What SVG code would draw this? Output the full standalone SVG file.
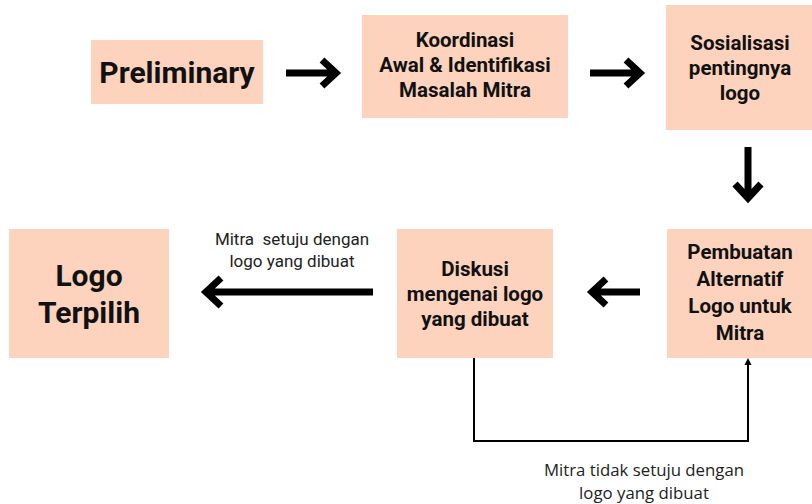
<svg xmlns="http://www.w3.org/2000/svg" width="812" height="504" viewBox="0 0 812 504">
<style>
.box{fill:#fdd3bd}
.t{font-family:Roboto,"Liberation Sans",sans-serif;font-weight:bold;fill:#111;text-anchor:middle}
.big{font-size:30px}
.mid{font-size:20.5px}
.lbl{font-family:Roboto,"Liberation Sans",sans-serif;font-size:17px;fill:#222;text-anchor:middle;white-space:pre}
.lbl2{font-family:"Open Sans",sans-serif;font-size:16.8px;fill:#222;text-anchor:middle}
.thick{fill:none;stroke:#000;stroke-width:7;stroke-linejoin:miter}
.thin{fill:none;stroke:#000;stroke-width:2}
</style>
<rect width="812" height="504" fill="#fff"/>
<g id="n-preliminary"><rect class="box" x="91" y="40" width="172" height="64"/><text class="t big" x="177" y="83">Preliminary</text></g>
<g id="n-koordinasi"><rect class="box" x="362" y="15" width="206" height="103"/><text class="t mid" x="465" y="47">Koordinasi</text><text class="t mid" x="465" y="72">Awal &amp; Identifikasi</text><text class="t mid" x="465" y="97">Masalah Mitra</text></g>
<g id="n-sosialisasi"><rect class="box" x="666" y="5" width="146" height="125"/><text class="t mid" x="740" y="50">Sosialisasi</text><text class="t mid" x="740" y="75">pentingnya</text><text class="t mid" x="740" y="100">logo</text></g>
<g id="n-pembuatan"><rect class="box" x="667" y="229" width="145" height="129"/><text class="t mid" x="740" y="259">Pembuatan</text><text class="t mid" x="740" y="286">Alternatif</text><text class="t mid" x="740" y="313">Logo untuk</text><text class="t mid" x="740" y="340">Mitra</text></g>
<g id="n-diskusi"><rect class="box" x="397" y="229" width="156" height="129"/><text class="t mid" x="475" y="276">Diskusi</text><text class="t mid" x="475" y="301">mengenai logo</text><text class="t mid" x="475" y="326">yang dibuat</text></g>
<g id="n-logo"><rect class="box" x="9" y="229" width="160" height="129"/><text class="t big" x="89" y="286">Logo</text><text class="t big" x="89" y="323">Terpilih</text></g>
<g id="connectors">
<path class="thick" d="M286 73H334M322 60L336 73L322 86"/>
<path class="thick" d="M590 73H638M626 60L640 73L626 86"/>
<path class="thick" d="M748 147V196M735 184L748 198L761 184"/>
<path class="thick" d="M640 292H594M606 279L592 292L606 305"/>
<path class="thick" d="M373 292H208M221 278L206 292L221 306"/>
<path class="thin" d="M474 358V441H748V362"/>
<path d="M748 358L744.5 365H751.5Z" fill="#000"/>
<text class="lbl" x="292" y="245">Mitra  setuju dengan</text>
<text class="lbl" x="292" y="267">logo yang dibuat</text>
<text class="lbl2" x="644" y="476">Mitra tidak setuju dengan</text>
<text class="lbl2" x="644" y="499">logo yang dibuat</text>
</g>
</svg>
